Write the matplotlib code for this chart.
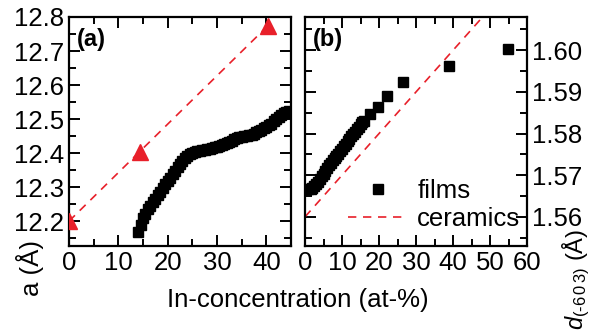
import matplotlib
matplotlib.use("Agg")
import matplotlib.pyplot as plt
from matplotlib.ticker import MultipleLocator, FormatStrFormatter

plt.rcParams['font.family'] = ['Liberation Sans', 'DejaVu Sans']
plt.rcParams['mathtext.fontset'] = 'custom'
plt.rcParams['mathtext.rm'] = 'Liberation Sans'
plt.rcParams['mathtext.it'] = 'Liberation Sans:italic'

# panel (a): lattice parameter a
films_a_x = [14.0, 14.5, 15.0, 15.5, 16.0, 16.5, 17.0, 17.5, 18.0, 18.5, 19.0, 19.5,
             20.0, 20.5, 21.0, 21.5, 22.0, 22.5, 23.0, 23.5, 24.0, 24.5, 25.0, 25.5,
             26.0, 26.5, 27.0, 27.5, 28.0, 28.5, 29.0, 29.5, 30.0, 30.5, 31.0, 31.5,
             32.0, 32.5, 33.0, 33.5, 34.0, 34.5, 35.0, 35.5, 36.0, 36.5, 37.0, 37.5,
             38.0, 38.5, 39.0, 39.5, 40.0, 40.5, 41.0, 41.5, 42.0, 42.5, 43.0, 43.5,
             44.0, 44.5]
films_a_y = [12.168, 12.190, 12.208, 12.222, 12.235, 12.246, 12.256, 12.266, 12.276,
             12.287, 12.298, 12.308, 12.318, 12.328, 12.338, 12.348, 12.358, 12.368,
             12.377, 12.385, 12.391, 12.396, 12.400, 12.403, 12.405, 12.407, 12.408,
             12.409, 12.411, 12.413, 12.415, 12.417, 12.419, 12.421, 12.424, 12.427,
             12.430, 12.433, 12.437, 12.441, 12.444, 12.446, 12.448, 12.449, 12.450,
             12.452, 12.454, 12.457, 12.461, 12.465, 12.469, 12.473, 12.477, 12.482,
             12.487, 12.493, 12.500, 12.507, 12.513, 12.518, 12.521, 12.523]
ceram_a_x = [0.0, 14.3, 40.3]
ceram_a_y = [12.200, 12.404, 12.774]

# panel (b): d-spacing of (-6 0 3)
films_b_x = [0.9, 1.5, 2.0, 2.5, 3.0, 3.5, 4.0, 4.5, 5.0, 5.5, 6.0, 6.5, 7.0, 7.5,
             8.0, 8.5, 9.0, 9.5, 10.0, 10.5, 11.0, 11.5, 12.0, 12.5, 13.0, 13.5,
             14.0, 14.5, 15.0, 15.5, 16.0, 17.5, 19.6, 22.2, 26.6, 39.0, 54.9]
films_b_y = [1.5668, 1.5668, 1.5670, 1.5673, 1.5678, 1.5684, 1.5690, 1.5697, 1.5704,
             1.5711, 1.5718, 1.5724, 1.5730, 1.5736, 1.5741, 1.5746, 1.5751, 1.5757,
             1.5763, 1.5769, 1.5775, 1.5781, 1.5787, 1.5793, 1.5799, 1.5805, 1.5811,
             1.5817, 1.5822, 1.5827, 1.5831, 1.5846, 1.5864, 1.5890, 1.5924, 1.5962,
             1.6002]
ceram_b_x = [0.0, 50.0]
ceram_b_y = [1.560, 1.610]

red = '#e8202a'
fs = 18.5

fig = plt.figure(figsize=(5.89, 3.34), dpi=100)
ax1 = fig.add_axes([69/589, 88/334, 222/589, 229/334])
ax2 = fig.add_axes([305/589, 88/334, 222/589, 229/334])

ax1.plot(ceram_a_x, ceram_a_y, color=red, lw=1.2, dashes=(5, 4),
         marker='^', ms=11, mec=red, mfc=red, zorder=3)
ax1.plot(films_a_x, films_a_y, 's', color='black', ms=7.5, zorder=2)
ax1.set_xlim(0, 45)
ax1.set_ylim(12.127, 12.8)
ax1.xaxis.set_major_locator(MultipleLocator(10))
ax1.xaxis.set_minor_locator(MultipleLocator(5))
ax1.yaxis.set_major_locator(MultipleLocator(0.1))
ax1.yaxis.set_minor_locator(MultipleLocator(0.05))
ax1.yaxis.set_major_formatter(FormatStrFormatter('%.1f'))
ax1.text(0.035, 0.9, '(a)', transform=ax1.transAxes, fontsize=17,
         fontweight='bold', ha='left', va='center')

ax2.plot(ceram_b_x, ceram_b_y, color=red, lw=1.2, dashes=(5, 4), label='ceramics')
ax2.plot(films_b_x, films_b_y, 's', color='black', ms=6.5, label='films')
ax2.set_xlim(0, 60)
ax2.set_ylim(1.553, 1.608)
ax2.xaxis.set_major_locator(MultipleLocator(10))
ax2.xaxis.set_minor_locator(MultipleLocator(5))
ax2.yaxis.set_major_locator(MultipleLocator(0.01))
ax2.yaxis.set_minor_locator(MultipleLocator(0.005))
ax2.yaxis.set_major_formatter(FormatStrFormatter('%.2f'))
ax2.yaxis.tick_right()
ax2.text(0.035, 0.9, '(b)', transform=ax2.transAxes, fontsize=17,
         fontweight='bold', ha='left', va='center')
h, l = ax2.get_legend_handles_labels()
ax2.legend([h[1], h[0]], [l[1], l[0]], loc='lower right', frameon=False,
           fontsize=fs, handlelength=2.3, handletextpad=0.4, labelspacing=0.15,
           borderaxespad=0.2, bbox_to_anchor=(1.04, 0.0))

for ax in (ax1, ax2):
    for s in ax.spines.values():
        s.set_linewidth(1.6)
    ax.tick_params(which='both', direction='in', top=True, bottom=True,
                   left=True, right=True, width=1.4, labelsize=fs)
    ax.tick_params(which='major', length=8)
    ax.tick_params(which='minor', length=5)
ax2.tick_params(labelleft=False, labelright=True)

fig.text(298/589, 1 - 300/334, 'In-concentration (at-%)', fontsize=fs,
         ha='center', va='center')
fig.text(30/589, 1 - 268/334, 'a (Å)', fontsize=fs, rotation=90,
         ha='center', va='center')
fig.text(576/589, 4/334, r'$d_{\mathrm{(\text{-}6\,0\,3)}}$ (Å)', fontsize=17,
         rotation=90, ha='center', va='bottom')

fig.savefig('out.png', dpi=100)
